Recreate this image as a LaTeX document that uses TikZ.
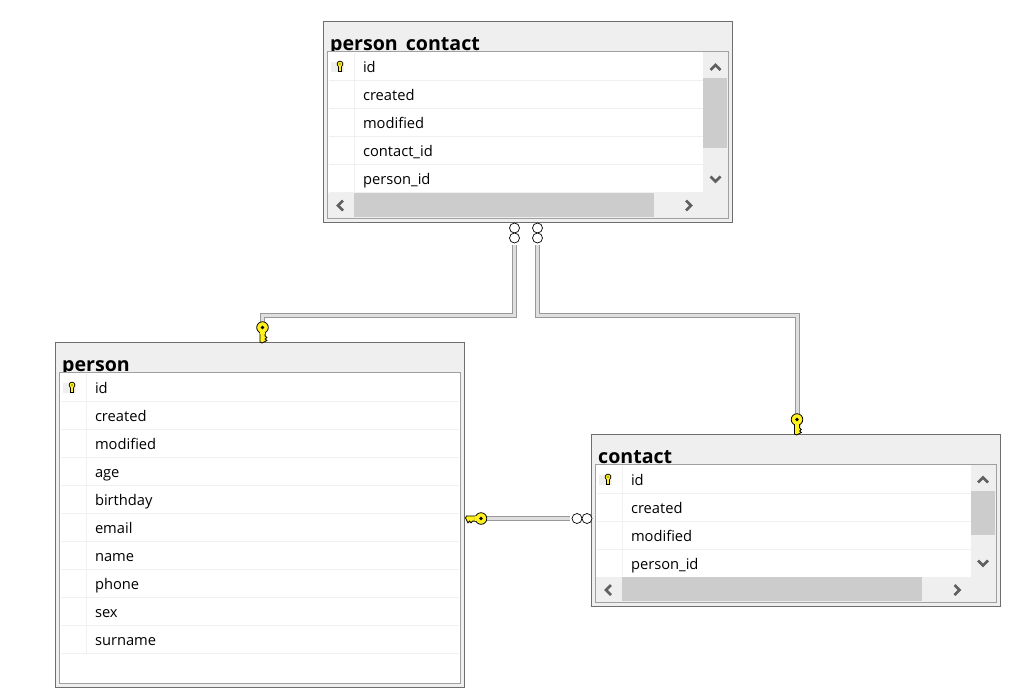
\documentclass[tikz,border=0pt]{standalone}
\usepackage{fontspec}
\setmainfont{Open Sans}
\definecolor{panelgray}{RGB}{239, 239, 239}
\definecolor{outergray}{RGB}{110, 110, 110}
\definecolor{innergray}{RGB}{160, 160, 160}
\definecolor{rulegray}{RGB}{240, 240, 240}
\definecolor{thumbgray}{RGB}{204, 204, 204}
\definecolor{chevrongray}{RGB}{96, 96, 96}
\definecolor{keyyellow}{RGB}{255, 240, 30}
\usetikzlibrary{positioning,calc}

\tikzset{
    tableframe/.style={rectangle, draw=outergray, fill=panelgray, line width=1pt, inner sep=0pt, outer sep=0pt, anchor=north west},
    listframe/.style={rectangle, draw=innergray, fill=white, line width=1pt, inner sep=0pt, outer sep=0pt, anchor=north west},
    tabletitle/.style={font=\fontsize{19.6}{20}\selectfont\bfseries, inner sep=0pt, anchor=base west},
    rowitem/.style={font=\fontsize{14.7}{16}\selectfont, text width=#1, text height=13pt, text depth=2pt, inner xsep=0pt, inner ysep=6.5pt, outer sep=0pt,
        append after command={([xshift=-34pt]\tikzlastnode.south west) edge[draw=rulegray, line width=1pt] (\tikzlastnode.south east)}},
    ring/.style={circle, draw=black, fill=white, line width=.7pt, inner sep=0pt, minimum size=10pt},
    relline/.style={draw=gray!80, double=gray!25, line width=1.1pt, double distance=2.4pt},
    relkey/.pic={
        \draw[line width=.8pt, fill=keyyellow] (-2.6,4) -- (-2.6,14.5) -- (-.5,15.5) -- (2.6,14) -- (4.4,13) -- (2.6,11.5) -- (4.4,10) -- (2.6,8.5) -- (2.6,4) -- cycle;
        \draw[line width=.8pt, fill=keyyellow] (0,0) circle[radius=5.8];
        \fill[keyyellow] (-2.2,3) rectangle (2.2,6.5);
        \fill[black] (0,0) circle[radius=1.8];
    },
    rowkey/.pic={
        \fill[panelgray] (-9,-4.5) rectangle (4,5.5);
        \draw[line width=.7pt, fill=keyyellow] (-1.4,1) -- (-1.4,5) -- (1.4,5) -- (1.4,1) -- cycle;
        \draw[line width=.7pt, fill=keyyellow] (0,-2) circle[radius=2.9];
        \fill[keyyellow] (-1,0) rectangle (1,2);
        \fill[black] (0,-2) circle[radius=.7];
    },
    scrollarrow/.pic={
        \draw[line width=2.6pt, color=chevrongray] (-5,2.5) -- (0,-2.5) -- (5,2.5);
    }
}

\begin{document}
\begin{tikzpicture}[x=1pt, y=-1pt]
    \useasboundingbox (0,0) rectangle (1018,697);

    % Person Contact Table
    \node[tableframe, minimum width=409pt, minimum height=201pt] (person_contact) at (323.5,21.5) {};
    \node[tabletitle] (person_contact_title) at (330,50) {person\_contact};
    \node[listframe, minimum width=400.5pt, minimum height=167pt] (person_contact_list) at (327.5,51.5) {};
    \draw[rulegray] (354,53) -- (354,192);
    \node[rowitem=340pt, anchor=north west] (pc_id) at (363,52.5) {id};
    \node[rowitem=340pt, below=0pt of pc_id] (pc_created) {created};
    \node[rowitem=340pt, below=0pt of pc_created] (pc_modified) {modified};
    \node[rowitem=340pt, below=0pt of pc_modified] (pc_contact_id) {contact\_id};
    \node[rowitem=340pt, below=0pt of pc_contact_id] (pc_person_id) {person\_id};
    \fill[panelgray] (703,52) rectangle (727.5,218);
    \fill[panelgray] (328,193) rectangle (727.5,218);
    \fill[thumbgray] (703,78) rectangle (727,148);
    \fill[thumbgray] (354,193) rectangle (654,217);
    \pic at (340,66) {rowkey};
    \pic at (715.5,67.5) {scrollarrow};
    \pic[rotate=180] at (715.5,179) {scrollarrow};
    \pic[rotate=90] at (340.5,205.5) {scrollarrow};
    \pic[rotate=-90] at (688.5,205.5) {scrollarrow};

    % Person Table
    \node[tableframe, minimum width=409pt, minimum height=345pt] (person) at (55.5,342.5) {};
    \node[tabletitle] (person_title) at (62,371) {person};
    \node[listframe, minimum width=400.5pt, minimum height=311pt] (person_list) at (59.5,372.5) {};
    \draw[rulegray] (86,374) -- (86,653);
    \node[rowitem=364pt, anchor=north west] (p_id) at (95,373.5) {id};
    \node[rowitem=364pt, below=0pt of p_id] (p_created) {created};
    \node[rowitem=364pt, below=0pt of p_created] (p_modified) {modified};
    \node[rowitem=364pt, below=0pt of p_modified] (p_age) {age};
    \node[rowitem=364pt, below=0pt of p_age] (p_birthday) {birthday};
    \node[rowitem=364pt, below=0pt of p_birthday] (p_email) {email};
    \node[rowitem=364pt, below=0pt of p_email] (p_name) {name};
    \node[rowitem=364pt, below=0pt of p_name] (p_phone) {phone};
    \node[rowitem=364pt, below=0pt of p_phone] (p_sex) {sex};
    \node[rowitem=364pt, below=0pt of p_sex] (p_surname) {surname};
    \pic at (72,387) {rowkey};

    % Contact Table
    \node[tableframe, minimum width=409pt, minimum height=172pt] (contact) at (591.5,434.5) {};
    \node[tabletitle] (contact_title) at (598,463) {contact};
    \node[listframe, minimum width=400.5pt, minimum height=138pt] (contact_list) at (595.5,464.5) {};
    \draw[rulegray] (622,466) -- (622,576);
    \node[rowitem=340pt, anchor=north west] (c_id) at (631,465.5) {id};
    \node[rowitem=340pt, below=0pt of c_id] (c_created) {created};
    \node[rowitem=340pt, below=0pt of c_created] (c_modified) {modified};
    \node[rowitem=340pt, below=0pt of c_modified] (c_person_id) {person\_id};
    \fill[panelgray] (971,465) rectangle (995.5,602);
    \fill[panelgray] (596,577) rectangle (995.5,602);
    \fill[thumbgray] (971,491) rectangle (995,535);
    \fill[thumbgray] (622,577) rectangle (922,601);
    \pic at (608,479) {rowkey};
    \pic at (983,480) {scrollarrow};
    \pic[rotate=180] at (983,563) {scrollarrow};
    \pic[rotate=90] at (608.5,590) {scrollarrow};
    \pic[rotate=-90] at (957,590) {scrollarrow};

    % Relations
    \node[ring] (ring_person_top) at (514.5,228) {};
    \node[ring] (ring_person) at (514.5,238) {};
    \node[ring] (ring_contact_top) at (537.5,228) {};
    \node[ring] (ring_contact) at (537.5,238) {};
    \node[ring] (ring_link) at (577,518.5) {};
    \node[ring] (ring_link_end) at (587,518.5) {};
    \coordinate (key_person) at (262.5,322);
    \coordinate (key_contact) at (797.5,414);
    \coordinate (key_link) at (487,518.5);
    \draw[relline, shorten <=2pt] (ring_person.south) -- ++(0,72) -| (key_person);
    \draw[relline, shorten <=2pt] (ring_contact.south) -- ++(0,72) -| (key_contact);
    \draw[relline, shorten <=2pt] (ring_link.west) -- (key_link);
    \pic at (262.5,327.5) {relkey};
    \pic at (797,419.5) {relkey};
    \pic[rotate=-90] at (481,518.5) {relkey};
\end{tikzpicture}
\end{document}
